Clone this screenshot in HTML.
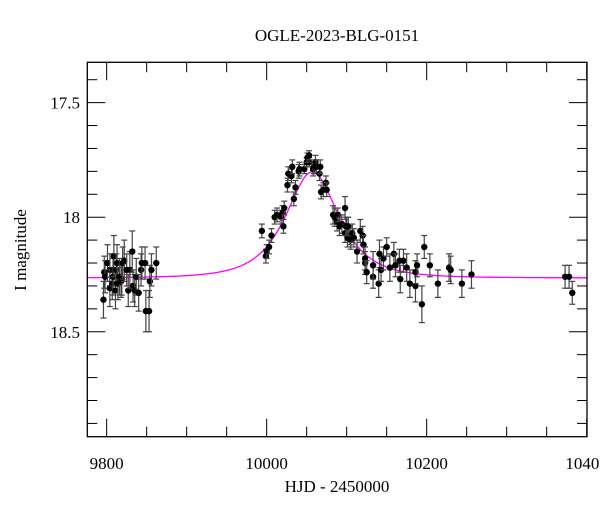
<!DOCTYPE html>
<html><head><meta charset="utf-8"><style>
html,body{margin:0;padding:0;background:#fff;}
svg{display:block;font-family:"Liberation Serif",serif;}
</style></head><body>
<svg id="chart" width="600" height="512" viewBox="0 0 600 512">
<text x="337" y="41" text-anchor="middle" font-size="17">OGLE-2023-BLG-0151</text>
<text x="337" y="492" text-anchor="middle" font-size="17">HJD - 2450000</text>
<text transform="translate(26,250) rotate(-90)" text-anchor="middle" font-size="17">I magnitude</text>
<g id="ticks"></g>
<g id="model"></g>
<g id="pts"></g>
<rect x="87.3" y="62.3" width="499.7" height="374.4" fill="none" stroke="#000" stroke-width="1.3"/>
</svg>
<script>
const times=[9796,9797,9798,9801,9804,9804,9807,9808,9808,9809,9811,9812,9813,9814,9816,9818,9819,9820,9822,9825,9827,9829,9832,9833,9835,9837,9840,9843,9844,9848,9849,9853,9854,9856,9862,
9994,9999,10000,10003,10006,10010,10013,10018,10020,10021,10022,10026,10027,10031,10032,10034,10036,10040,10041,10047,10050,10053,10051,10053,10058,10059,10061,10062,10066,10067,10068,10071,10074,10075,10083,10085,10088,10089,10091,10094,10098,10099,10101,10104,
10098,10100,10102,10105,10107,10109,10113,10117,10120,10121,10123,10123,10125,10133,10133,10140,10141,10143,10146,10150,10154,10159,10161,10166,10167,10171,10175,10179,10186,10186,10188,10194,10197,10204,10214,10228,10230,10244,10256,10373,10378,10382];
const mags=[18.36,18.24,18.26,18.20,18.23,18.31,18.29,18.23,18.26,18.17,18.32,18.23,18.20,18.29,18.26,18.28,18.27,18.20,18.19,18.23,18.32,18.23,18.15,18.30,18.32,18.26,18.33,18.23,18.20,18.20,18.41,18.41,18.28,18.23,18.20,
18.06,18.17,18.15,18.13,18.08,18.00,17.99,18.00,17.98,18.04,17.96,17.86,17.81,17.82,17.78,17.92,17.87,17.80,17.79,17.79,17.76,17.76,17.74,17.73,17.79,17.78,17.76,17.78,17.81,17.78,17.89,17.88,17.85,17.88,17.99,18.00,18.02,17.99,18.04,18.03,18.07,18.04,18.09,18.08,
17.96,18.04,18.04,18.10,18.07,18.09,18.15,18.06,18.08,18.12,18.20,18.18,18.24,18.26,18.21,18.29,18.16,18.23,18.18,18.13,18.22,18.16,18.21,18.19,18.27,18.19,18.22,18.29,18.30,18.24,18.21,18.38,18.13,18.21,18.29,18.22,18.23,18.29,18.25,18.26,18.26,18.33];
const errs=[0.08,0.07,0.07,0.08,0.07,0.08,0.07,0.07,0.08,0.09,0.08,0.07,0.08,0.07,0.08,0.07,0.07,0.07,0.09,0.07,0.07,0.08,0.09,0.07,0.07,0.08,0.08,0.07,0.07,0.07,0.09,0.09,0.07,0.07,0.07,
0.03,0.03,0.03,0.03,0.03,0.03,0.03,0.03,0.03,0.03,0.03,0.03,0.03,0.03,0.03,0.03,0.03,0.03,0.03,0.02,0.02,0.02,0.02,0.02,0.03,0.03,0.03,0.03,0.03,0.03,0.03,0.03,0.03,0.03,0.04,0.04,0.04,0.03,0.04,0.04,0.04,0.04,0.04,0.04,
0.05,0.04,0.04,0.04,0.04,0.04,0.05,0.05,0.04,0.04,0.05,0.05,0.05,0.05,0.06,0.06,0.06,0.05,0.05,0.04,0.06,0.05,0.05,0.05,0.06,0.05,0.06,0.06,0.07,0.05,0.05,0.08,0.05,0.05,0.06,0.06,0.06,0.06,0.06,0.05,0.05,0.05];
const xTickLabels=[9800,10000,10200,10400];
const yTickLabels=[17.5,18,18.5];
const model={t0:10057,u0:0.8,tE:45,base:18.265};

const X0=9775.8,X1=10400.4,Y0=17.324,Y1=18.958;
const L=87.3,R=587,T=62.3,B=436.7;
const xs=t=>L+(t-X0)/(X1-X0)*(R-L);
const ys=m=>T+(m-Y0)/(Y1-Y0)*(B-T);
const NS="http://www.w3.org/2000/svg";
function mk(tag,attrs,parent){const e=document.createElementNS(NS,tag);for(const k in attrs)e.setAttribute(k,attrs[k]);parent.appendChild(e);return e;}
const tk=document.getElementById('ticks');
for(let v=9800;v<=10400;v+=50){
  const x=xs(v),maj=(v%200===0),len=maj?18:10;
  const a=mk('line',{x1:x,x2:x,y1:B,y2:B-len,stroke:'#000','stroke-width':1},tk);
  
  
  const b=mk('line',{x1:x,x2:x,y1:T,y2:T+len,stroke:'#000','stroke-width':1},tk);
  
  
}
xTickLabels.forEach(v=>{
  const t=mk('text',{x:xs(v),y:469,'text-anchor':'middle','font-size':17},tk);
  t.textContent=v;
  
  
});
for(let i=4;i<=19;i++){
  const v=i/10,y=ys(v);if(y<T||y>B)continue;
  const maj=(i%5===0),len=maj?18:10;
  const a=mk('line',{x1:L,x2:L+len,y1:y,y2:y,stroke:'#000','stroke-width':1},tk);
  
  
  const b=mk('line',{x1:R,x2:R-len,y1:y,y2:y,stroke:'#000','stroke-width':1},tk);
  
  
}
for(let i=174;i<=190;i++){
  const v=i/10;
}
for(let k=0;k<17;k++){
  const v=17.4+k*0.1,y=ys(v);if(y<T||y>B)continue;
  const maj=Math.abs((v*10)%5)<0.01||Math.abs((v*10)%5-5)<0.01,len=maj?18:10;
  const a=mk('line',{x1:L,x2:L+len,y1:y,y2:y,stroke:'#000','stroke-width':1},tk);
  
  
  const b=mk('line',{x1:R,x2:R-len,y1:y,y2:y,stroke:'#000','stroke-width':1},tk);
  
  
}
yTickLabels.forEach(v=>{
  const t=mk('text',{x:80,y:ys(v)+6,'text-anchor':'end','font-size':17},tk);
  t.textContent=v;
  
  
});
// model curve
const mg=document.getElementById('model');
let d='';
for(let t=X0;t<=X1;t+=1){
  const tau=(t-model.t0)/model.tE,u=Math.sqrt(model.u0*model.u0+tau*tau);
  const A=(u*u+2)/(u*Math.sqrt(u*u+4));
  const m=model.base-2.5*Math.log10(A);
  d+=(d?'L':'M')+xs(t).toFixed(1)+','+ys(m).toFixed(1);
}
const mp=mk('path',{d:d,fill:'none',stroke:'#ff00ff','stroke-width':1.3},mg);


// points
const pg=document.getElementById('pts');
times.forEach((t,i)=>{
  const x=xs(t),y=ys(mags[i]),y1=ys(mags[i]-errs[i]),y2=ys(mags[i]+errs[i]);
  const g=mk('g',{},pg);
  
  
  mk('line',{x1:x,x2:x,y1:y1,y2:y2,stroke:'#444','stroke-width':1.2},g);
  mk('line',{x1:x-3,x2:x+3,y1:y1,y2:y1,stroke:'#444','stroke-width':1.2},g);
  mk('line',{x1:x-3,x2:x+3,y1:y2,y2:y2,stroke:'#444','stroke-width':1.2},g);
  mk('circle',{cx:x,cy:y,r:3.2,fill:'#000'},g);
});
</script>
</body></html>
